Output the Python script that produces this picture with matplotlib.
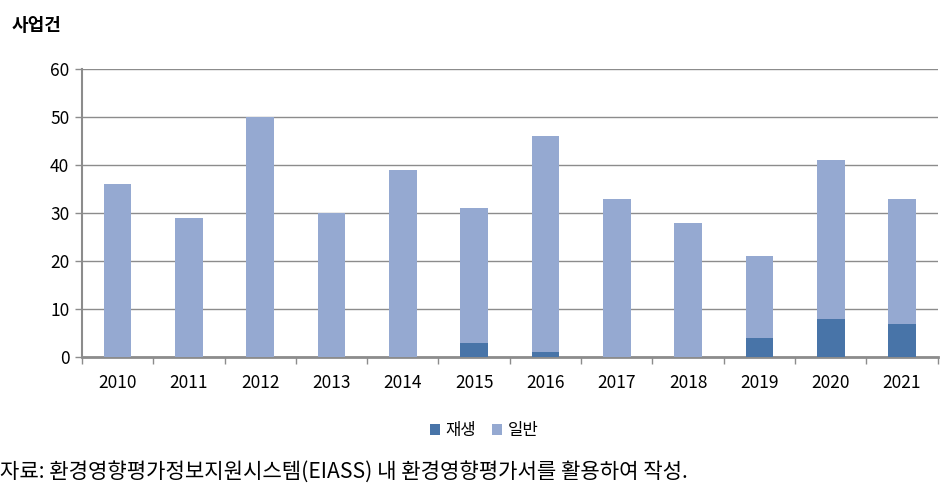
import matplotlib
matplotlib.use("Agg")
import matplotlib.pyplot as plt
import numpy as np

plt.rcParams['font.family'] = ['Noto Sans CJK KR', 'DejaVu Sans']

years = ['2010', '2011', '2012', '2013', '2014', '2015', '2016', '2017', '2018', '2019', '2020', '2021']
totals = [36, 29, 50, 30, 39, 31, 46, 33, 28, 21, 41, 33]
renew = [0, 0, 0, 0, 0, 3, 1, 0, 0, 4, 8, 7]
general = [t - r for t, r in zip(totals, renew)]

dark = '#4874A8'
light = '#95A9D1'
grey = '#8C8C8C'

fig = plt.figure(figsize=(9.52, 4.94), dpi=100)
ax = fig.add_axes([0.086, 0.277, 0.899, 0.583])

x = np.arange(len(years))
ax.bar(x, renew, width=0.39, color=dark, label='재생', zorder=3)
ax.bar(x, general, width=0.39, bottom=renew, color=light, label='일반', zorder=3)

ax.set_xlim(-0.5, len(years) - 0.5)
ax.set_ylim(0, 60)
ax.set_yticks(range(0, 61, 10))
ax.yaxis.grid(True, color=grey, linewidth=1, zorder=0)
ax.set_xticks(x)
ax.set_xticklabels(years)
ax.set_xticks(np.arange(-0.5, len(years), 1), minor=True)
ax.tick_params(axis='x', which='major', length=0, pad=12, labelsize=12.5)
ax.tick_params(axis='x', which='minor', length=5, color=grey, width=1)
ax.tick_params(axis='y', length=5, color=grey, width=1, labelsize=12.5, pad=4)

for s in ['top', 'right']:
    ax.spines[s].set_visible(False)
ax.spines['left'].set_color(grey)
ax.spines['left'].set_linewidth(1.5)
ax.spines['bottom'].set_color(grey)
ax.spines['bottom'].set_linewidth(2)

fig.text(0.012, 0.948, '사업건', fontsize=13, fontweight='bold', ha='left', va='center')

ax.legend(loc='center', bbox_to_anchor=(0.47, -0.255), ncol=2, frameon=False,
          fontsize=12, handlelength=0.6, handleheight=0.6, handletextpad=0.3,
          columnspacing=1.0)

fig.text(0.0, 0.045, '자료: 환경영향평가정보지원시스템(EIASS) 내 환경영향평가서를 활용하여 작성.',
         fontsize=15.2, ha='left', va='center')

fig.savefig('out.png', dpi=100)
